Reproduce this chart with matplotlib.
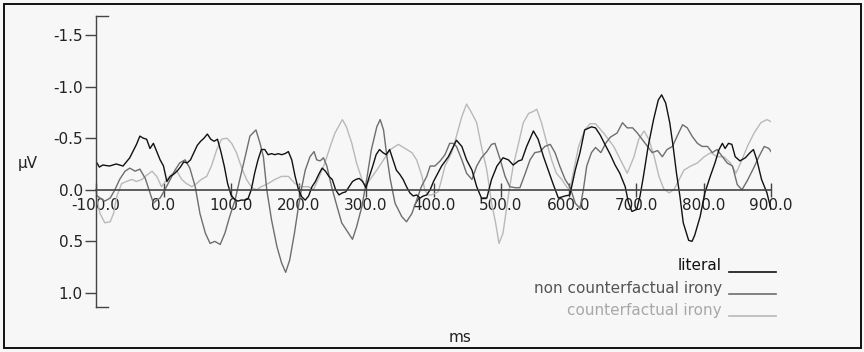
import matplotlib
matplotlib.use("Agg")
import matplotlib.pyplot as plt
from matplotlib.patches import Rectangle
import numpy as np

plt.rcParams['font.family'] = ['DejaVu Sans']
plt.rcParams['axes.unicode_minus'] = False

# ---------------- data (ms, µV; negative plotted upward) ----------------
literal_t = [-100, -95, -90, -80, -70, -60, -50, -40, -35, -30, -25, -20, -15, -10, -5,
             0, 5, 10, 15, 20, 25, 30, 35, 40, 45, 50, 55, 60, 65, 70, 75, 80, 85, 90, 95,
             100, 105, 110, 115, 120, 125, 130, 135, 140, 145, 150, 155, 160, 165, 170, 175,
             180, 185, 190, 195, 200, 205, 210, 215, 220, 225, 230, 235, 240, 245, 250, 255,
             260, 265, 270, 275, 280, 285, 290, 295, 300, 305, 310, 315, 320, 325, 330, 335,
             340, 345, 350, 355, 360, 365, 370, 375, 380, 385, 390, 395, 400, 412, 422, 434,
             442, 449, 457, 464, 471, 479, 486, 494, 503, 511, 518, 526, 531, 538, 548, 555,
             563, 570, 577, 585, 595, 602, 610, 617, 624, 634, 640, 647, 654, 662, 669, 676,
             684, 689, 694, 701, 706, 711, 718, 726, 733, 738, 744, 750, 755, 760, 765, 770,
             778, 783, 787, 795, 802, 810, 817, 823, 828, 832, 837, 842, 847, 854, 862, 869,
             874, 879, 886, 894, 900]
literal_v = [-0.275, -0.22, -0.24, -0.23, -0.25, -0.23, -0.31, -0.44, -0.52, -0.50, -0.49, -0.40, -0.45, -0.37, -0.29,
             -0.23, -0.08, -0.13, -0.15, -0.18, -0.22, -0.27, -0.26, -0.29, -0.36, -0.43, -0.47, -0.50, -0.54, -0.49, -0.47, -0.49, -0.37, -0.23, -0.06,
             0.05, 0.09, 0.11, 0.10, 0.10, 0.09, 0.0, -0.16, -0.29, -0.39, -0.39, -0.34, -0.35, -0.34, -0.35, -0.34,
             -0.35, -0.37, -0.29, -0.13, 0.0, 0.07, 0.10, 0.06, -0.03, -0.08, -0.15, -0.21, -0.18, -0.13, -0.10, 0.0,
             0.05, 0.03, 0.02, -0.03, -0.08, -0.10, -0.11, -0.08, -0.02, -0.13, -0.23, -0.34, -0.39, -0.36, -0.34, -0.39,
             -0.29, -0.19, -0.15, -0.10, -0.03, 0.03, 0.06, 0.05, 0.08, 0.06, 0.05, 0.0, -0.08, -0.23, -0.32, -0.48,
             -0.42, -0.29, -0.19, -0.03, 0.08, 0.08, -0.10, -0.23, -0.31, -0.29, -0.24, -0.28, -0.29, -0.42, -0.57, -0.49,
             -0.32, -0.19, -0.06, 0.08, 0.06, 0.05, -0.19, -0.36, -0.58, -0.61, -0.60, -0.53, -0.44, -0.34, -0.24, -0.16,
             -0.03, 0.13, 0.21, 0.19, 0.06, -0.13, -0.42, -0.68, -0.87, -0.92, -0.84, -0.65, -0.42, -0.16, 0.06, 0.32,
             0.49, 0.50, 0.44, 0.26, 0.03, -0.13, -0.26, -0.39, -0.45, -0.40, -0.45, -0.44, -0.32, -0.28, -0.31, -0.36,
             -0.39, -0.29, -0.10, 0.03, 0.19]

noncf_t = [-100, -94, -87, -79, -72, -65, -57, -50, -42, -35, -27, -20, -15, -10, -5, 2, 10, 17, 24, 32,
           39, 47, 54, 62, 69, 76, 84, 91, 98, 106, 113, 121, 128, 137, 143, 148, 153, 160, 168, 175,
           181, 187, 194, 200, 205, 210, 217, 223, 227, 232, 237, 242, 249, 257, 264, 274, 280, 286, 294, 301,
           308, 316, 321, 326, 331, 336, 343, 353, 360, 368, 375, 382, 390, 395, 402, 410, 417, 424, 429, 434,
           442, 449, 457, 464, 471, 479, 486, 491, 499, 506, 513, 521, 528, 536, 543, 550, 558, 565, 573, 580,
           587, 595, 602, 610, 617, 622, 627, 634, 640, 648, 655, 662, 672, 680, 687, 695, 702, 709, 717, 724,
           732, 739, 746, 754, 761, 769, 776, 783, 791, 798, 806, 813, 820, 828, 835, 843, 850, 857, 865, 875,
           882, 890, 897, 900]
noncf_v = [0.05, 0.08, 0.11, 0.08, 0.0, -0.10, -0.18, -0.21, -0.18, -0.20, -0.11, 0.03, 0.13, 0.10, 0.08, 0.0, -0.10, -0.19, -0.26, -0.29,
           -0.21, -0.03, 0.23, 0.42, 0.52, 0.50, 0.53, 0.42, 0.26, 0.10, -0.10, -0.32, -0.52, -0.58, -0.45, -0.32, 0.0, 0.29, 0.55, 0.71,
           0.80, 0.68, 0.42, 0.16, -0.03, -0.19, -0.32, -0.37, -0.29, -0.28, -0.31, -0.23, -0.03, 0.16, 0.32, 0.42, 0.48, 0.36, 0.16, -0.10,
           -0.39, -0.61, -0.68, -0.58, -0.32, -0.10, 0.13, 0.26, 0.31, 0.23, 0.10, -0.03, -0.13, -0.23, -0.23, -0.28, -0.34, -0.45, -0.45, -0.42,
           -0.29, -0.16, -0.10, -0.23, -0.31, -0.37, -0.44, -0.45, -0.29, -0.13, -0.03, -0.02, -0.02, -0.16, -0.29, -0.36, -0.37, -0.42, -0.44, -0.36,
           -0.23, -0.10, -0.03, 0.13, 0.18, 0.0, -0.23, -0.36, -0.41, -0.36, -0.45, -0.51, -0.55, -0.65, -0.60, -0.60, -0.55, -0.49, -0.42, -0.36,
           -0.38, -0.32, -0.39, -0.42, -0.52, -0.63, -0.60, -0.52, -0.45, -0.42, -0.42, -0.36, -0.39, -0.32, -0.26, -0.23, -0.05, 0.0, -0.09, -0.22,
           -0.32, -0.42, -0.40, -0.37]

cf_t = [-100, -94, -87, -79, -74, -69, -62, -55, -47, -40, -32, -25, -17, -10, -3, 5, 12, 19, 27, 34,
        42, 49, 56, 64, 71, 79, 86, 94, 101, 108, 116, 123, 131, 138, 145, 155, 165, 175, 185, 195,
        205, 215, 222, 229, 239, 247, 254, 265, 271, 279, 286, 294, 299, 306, 316, 326, 336, 348, 358, 368,
        375, 383, 387, 392, 397, 407, 412, 417, 427, 434, 442, 449, 457, 464, 471, 479, 486, 492, 497, 503,
        508, 513, 518, 526, 533, 541, 548, 553, 560, 568, 575, 582, 590, 597, 602, 607, 615, 624, 632, 640,
        652, 667, 677, 687, 697, 704, 712, 719, 727, 734, 741, 749, 756, 764, 771, 781, 791, 801, 811, 820,
        830, 840, 848, 855, 865, 875, 885, 894, 900]
cf_v = [0.06, 0.23, 0.32, 0.31, 0.23, 0.06, -0.06, -0.08, -0.10, -0.08, -0.10, -0.14, -0.18, -0.13, -0.03, -0.10, -0.15, -0.19, -0.10, -0.06,
        -0.03, -0.06, -0.10, -0.13, -0.23, -0.39, -0.49, -0.50, -0.45, -0.36, -0.21, -0.10, -0.02, 0.0, -0.03, -0.06, -0.10, -0.13, -0.13, -0.06,
        -0.03, -0.03, 0.0, -0.10, -0.26, -0.42, -0.55, -0.68, -0.61, -0.45, -0.26, -0.10, -0.03, -0.10, -0.19, -0.29, -0.39, -0.44, -0.40, -0.36,
        -0.29, -0.13, 0.0, 0.05, 0.05, 0.02, -0.10, -0.23, -0.36, -0.52, -0.71, -0.83, -0.74, -0.65, -0.42, -0.19, 0.13, 0.32, 0.52, 0.42,
        0.19, -0.03, -0.23, -0.45, -0.65, -0.74, -0.76, -0.78, -0.65, -0.45, -0.29, -0.16, -0.10, -0.03, 0.0, -0.16, -0.42, -0.58, -0.64, -0.64,
        -0.55, -0.42, -0.29, -0.16, -0.32, -0.49, -0.57, -0.49, -0.32, -0.13, -0.01, 0.03, 0.0, -0.10, -0.19, -0.23, -0.26, -0.32, -0.36, -0.32,
        -0.32, -0.26, -0.16, -0.26, -0.42, -0.55, -0.65, -0.68, -0.66]

series_names = ["literal", "non counterfactual irony", "counterfactual irony"]
series_colors = ["#111111", "#6e6e6e", "#b9b9b9"]
legend_text_colors = ["#111111", "#555555", "#a8a8a8"]

x_ticks = [-100, 0, 100, 200, 300, 400, 500, 600, 700, 800, 900]
y_ticks = [-1.5, -1.0, -0.5, 0.0, 0.5, 1.0]

# ---------------- figure ----------------
W, H = 864, 352
fig = plt.figure(figsize=(W / 100, H / 100), dpi=100)
fig.patch.set_facecolor("#f7f7f7")

# outer frame
fig.add_artist(Rectangle((4 / W, 4 / H), (861 - 4) / W, (348 - 4) / H,
                         transform=fig.transFigure, fill=False,
                         edgecolor="#111111", linewidth=1.4))

ax_left, ax_right = 96 / W, 771 / W
ax_top, ax_bottom = 1 - 16 / H, 1 - 307 / H
ax = fig.add_axes([ax_left, ax_bottom, ax_right - ax_left, ax_top - ax_bottom])
ax.set_facecolor("none")

for t, v, c in zip([literal_t, noncf_t, cf_t][::-1],
                   [literal_v, noncf_v, cf_v][::-1],
                   series_colors[::-1]):
    ax.plot(t, v, color=c, linewidth=1.0, solid_joinstyle="round")

ax.set_xlim(-100, 900)
ax.set_ylim(1.136, -1.684)

axis_col = "#444444"
for s in ["top", "right"]:
    ax.spines[s].set_visible(False)
ax.spines["left"].set_color(axis_col)
ax.spines["left"].set_linewidth(1.0)
ax.spines["bottom"].set_position(("data", 0))
ax.spines["bottom"].set_color(axis_col)
ax.spines["bottom"].set_linewidth(1.2)

ax.set_xticks(x_ticks)
ax.set_xticklabels([f"{x:.1f}" for x in x_ticks])
ax.set_yticks(y_ticks)
ax.set_yticklabels([f"{y:.1f}" for y in y_ticks])
ax.tick_params(axis="x", direction="inout", length=10, width=1.0, color=axis_col,
               pad=1, labelsize=11, labelcolor="#222222")
ax.tick_params(axis="y", direction="out", length=8, width=1.0, color=axis_col,
               pad=1.5, labelsize=11, labelcolor="#222222")

# bracket caps on the y axis
cap = 12 / (771 - 96)
for yy in (0, 1):
    ax.plot([0, cap], [yy, yy], transform=ax.transAxes, color=axis_col,
            linewidth=1.0, clip_on=False)

# axis labels
fig.text(28 / W, 1 - 163 / H, "µV", ha="center", va="center", fontsize=11, color="#222222")
fig.text(460 / W, 1 - 338 / H, "ms", ha="center", va="center", fontsize=11, color="#222222")

# legend (text + short line)
leg_y = [266, 288, 310]
for name, lc, tc, yy in zip(series_names, series_colors, legend_text_colors, leg_y):
    fig.text(722 / W, 1 - yy / H, name, ha="right", va="center", fontsize=11, color=tc)
    fig.add_artist(plt.Line2D([729 / W, 776 / W], [1 - (yy + 6) / H, 1 - (yy + 6) / H],
                              transform=fig.transFigure, color=lc, linewidth=1.2))

fig.savefig("out.png", dpi=100, facecolor=fig.get_facecolor())
